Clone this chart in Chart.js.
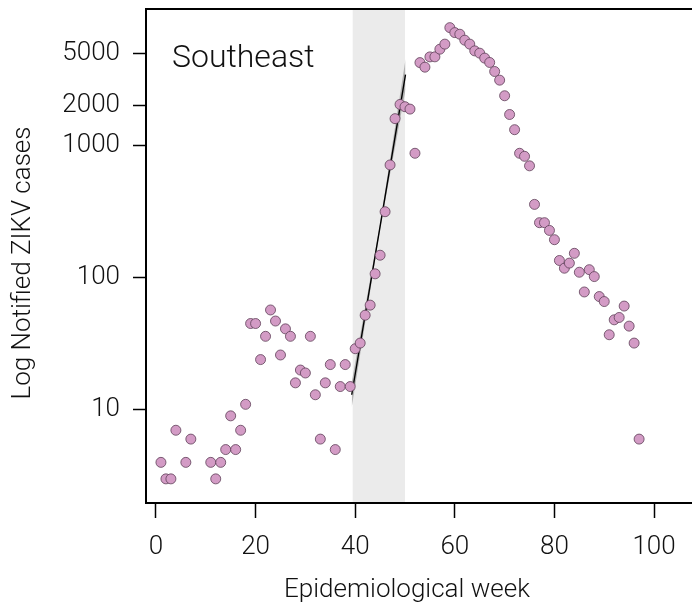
<!DOCTYPE html>
<html lang="en">
  <head>
    <meta charset="UTF-8" />
    <title>Southeast ZIKV</title>
    <style>
      html, body { margin: 0; padding: 0; background: #fff; overflow: hidden; }
      #wrap { width: 692px; height: 608px; }
    </style>
  </head>
  <body>
    <div id="wrap">
      <canvas id="zikvChart" width="692" height="608"></canvas>
    </div>

    <script src="https://cdn.jsdelivr.net/npm/chart.js"></script>
    <script>
      // weekly notified cases
      const weeks = [1, 2, 3, 4, 6, 7, 11, 12, 13, 14, 15, 16, 17, 18, 19, 20,
        21, 22, 23, 24, 25, 26, 27, 28, 29, 30, 31, 32, 33, 34, 35, 36, 37, 38,
        39, 40, 41, 42, 43, 44, 45, 46, 47, 48, 49, 50, 51, 52, 53, 54, 55, 56,
        57, 58, 59, 60, 61, 62, 63, 64, 65, 66, 67, 68, 69, 70, 71, 72, 73, 74,
        75, 76, 77, 78, 79, 80, 81, 82, 83, 84, 85, 86, 87, 88, 89, 90, 91, 92,
        93, 94, 95, 96, 97];
      const cases = [4, 3, 3, 7, 4, 6, 4, 3, 4, 5, 9, 5, 7, 11, 45, 45,
        24, 36, 57, 47, 26, 41, 36, 16, 20, 19, 36, 13, 6, 16, 22, 5, 15, 22,
        15, 29, 32, 52, 62, 107, 148, 316, 714, 1600, 2050, 1970, 1890, 875, 4250, 3925, 4695, 4700,
        5370, 5865, 7820, 7170, 6970, 6280, 5865, 5215, 5010, 4595, 4260, 3640, 3130, 2385, 1720, 1320, 875, 830,
        703, 359, 261, 261, 228, 194, 135, 118, 129, 153, 110, 78, 115, 102, 72, 66, 37, 48,
        50, 61, 43, 32, 6];

      // exponential growth fit and its confidence band
      const fitWeeks = [39.3, 45, 50.1];
      const fitCases = [13, 245, 3450];
      const fitLower = [10.4, 235, 2650];
      const fitUpper = [16.2, 256, 4500];

      // shaded fitting window
      const windowStart = 39.5;
      const windowEnd = 50;

      const xTicks = [0, 20, 40, 60, 80, 100];
      const yTicks = [10, 100, 1000, 2000, 5000];
      const regionName = "Southeast";
      const yTitle = "Log Notified ZIKV cases";

      const FONT = "Roboto, 'Liberation Sans', sans-serif";

      const toXY = (xs, ys) => xs.map((x, i) => ({ x: x, y: ys[i] }));

      // grey band behind the points
      const windowShade = {
        id: "windowShade",
        beforeDatasetsDraw(chart) {
          const { ctx, chartArea, scales } = chart;
          const x0 = scales.x.getPixelForValue(windowStart);
          const x1 = scales.x.getPixelForValue(windowEnd);
          ctx.save();
          ctx.fillStyle = "#ebebeb";
          ctx.fillRect(x0, chartArea.top, x1 - x0, chartArea.bottom - chartArea.top);
          ctx.restore();
        },
      };

      // box (open on the right, runs to the edge), region name, y title
      const frame = {
        id: "frame",
        afterDatasetsDraw(chart) {
          const { ctx, chartArea, width } = chart;
          ctx.save();
          ctx.strokeStyle = "#000";
          ctx.lineWidth = 2;
          ctx.beginPath();
          ctx.moveTo(width, chartArea.top);
          ctx.lineTo(chartArea.left, chartArea.top);
          ctx.lineTo(chartArea.left, chartArea.bottom);
          ctx.lineTo(width, chartArea.bottom);
          ctx.stroke();

          ctx.fillStyle = "#111";
          ctx.font = "300 32px " + FONT;
          ctx.textBaseline = "alphabetic";
          ctx.fillText(regionName, chartArea.left + 26, chartArea.top + 58);

          // y title sits a little below the plot's middle in the original
          ctx.font = "300 26px " + FONT;
          ctx.textAlign = "center";
          ctx.textBaseline = "middle";
          ctx.translate(23, (chartArea.top + chartArea.bottom) / 2 + 7);
          ctx.rotate(-Math.PI / 2);
          ctx.fillText(yTitle, 0, 0);
          ctx.restore();
        },
      };

      const ctx = document.getElementById("zikvChart").getContext("2d");
      new Chart(ctx, {
        type: "scatter",
        data: {
          datasets: [
            {
              label: "cases",
              data: toXY(weeks, cases),
              pointRadius: 5,
              pointBackgroundColor: "#d39bc5",
              pointBorderColor: "#5e4058",
              pointBorderWidth: 0.8,
              order: 0,
            },
            {
              label: "lower",
              type: "line",
              data: toXY(fitWeeks, fitLower),
              borderWidth: 0,
              pointRadius: 0,
              fill: false,
              order: 3,
            },
            {
              label: "upper",
              type: "line",
              data: toXY(fitWeeks, fitUpper),
              borderWidth: 0,
              pointRadius: 0,
              backgroundColor: "rgba(120,120,120,0.5)",
              fill: "-1",
              order: 2,
            },
            {
              label: "fit",
              type: "line",
              data: toXY(fitWeeks, fitCases),
              borderColor: "#000",
              borderWidth: 1.4,
              pointRadius: 0,
              fill: false,
              tension: 0,
              order: 1,
            },
          ],
        },
        options: {
          responsive: false,
          animation: false,
          devicePixelRatio: 1,
          layout: { padding: { top: 9, right: 24, left: 0, bottom: 0 } },
          plugins: {
            legend: { display: false },
            tooltip: { enabled: false },
          },
          scales: {
            x: {
              type: "linear",
              min: -2,
              max: 102.8,
              afterBuildTicks: (s) => { s.ticks = xTicks.map((v) => ({ value: v })); },
              afterFit: (s) => {
                s.height = 105;
                s.paddingLeft = 0;
                s.paddingRight = 0;
              },
              border: { display: false },
              grid: {
                drawOnChartArea: false,
                drawTicks: true,
                tickLength: 15,
                tickColor: "#000",
                tickWidth: 1.5,
              },
              ticks: {
                color: "#111",
                padding: 14,
                font: { family: FONT, size: 26, weight: "300" },
              },
              title: {
                display: true,
                text: "Epidemiological week",
                color: "#111",
                padding: { top: 0, bottom: 2 },
                font: { family: FONT, size: 26, weight: "300" },
              },
            },
            y: {
              type: "logarithmic",
              min: 1.97,
              max: 10820,
              afterBuildTicks: (s) => { s.ticks = yTicks.map((v) => ({ value: v })); },
              afterFit: (s) => {
                s.width = 146;
                s.paddingTop = 0;
                s.paddingBottom = 0;
              },
              border: { display: false },
              grid: {
                drawOnChartArea: false,
                drawTicks: true,
                tickLength: 13,
                tickColor: "#000",
                tickWidth: 1.5,
              },
              ticks: {
                color: "#111",
                padding: 13,
                autoSkip: false,
                callback: (v) => String(v),
                font: { family: FONT, size: 26, weight: "300" },
              },
            },
          },
        },
        plugins: [windowShade, frame],
      });
    </script>
  </body>
</html>
